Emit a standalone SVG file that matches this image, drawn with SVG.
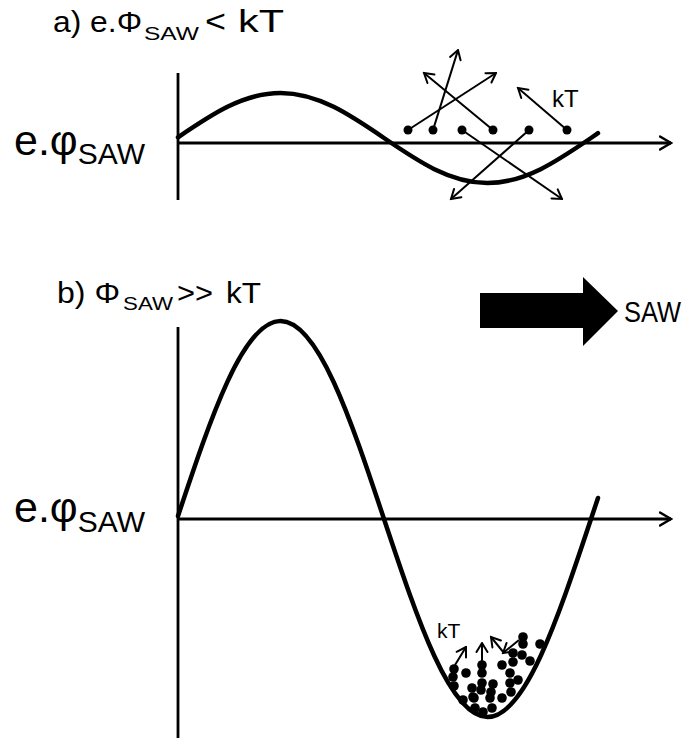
<svg xmlns="http://www.w3.org/2000/svg" width="689" height="740" viewBox="0 0 689 740">
<style>
.t{font-family:"Liberation Sans",Arial,sans-serif;fill:#000}
.axis{stroke:#000;stroke-width:2.8;fill:none}
.curve{stroke:#000;stroke-width:4.5;fill:none;stroke-linecap:round}
.arr{stroke:#000;stroke-width:2;fill:none;marker-end:url(#sh)}
.dot{fill:#000}
</style>
<defs>
<marker id="ah" viewBox="0 0 14 16" refX="12.5" refY="8" markerWidth="14" markerHeight="16" markerUnits="userSpaceOnUse" orient="auto">
<path d="M1.5,1.5 L12.5,8 L1.5,14.5" fill="none" stroke="#000" stroke-width="2.6" stroke-linecap="round" stroke-linejoin="miter"/>
</marker>
<marker id="sh" viewBox="0 0 12 14" refX="10.5" refY="7" markerWidth="12" markerHeight="14" markerUnits="userSpaceOnUse" orient="auto">
<path d="M1.5,1.5 L10.5,7 L1.5,12.5" fill="none" stroke="#000" stroke-width="2" stroke-linecap="round"/>
</marker>
</defs>
<rect width="689" height="740" fill="#fff"/>

<g id="panelA">
<g id="titleA">
<text class="t" x="53" y="32" font-size="30" textLength="89" lengthAdjust="spacingAndGlyphs">a) e.Φ</text>
<text class="t" x="144" y="40" font-size="19" textLength="55" lengthAdjust="spacingAndGlyphs">SAW</text>
<text class="t" x="205" y="32" font-size="31" textLength="21" lengthAdjust="spacingAndGlyphs">&lt;</text>
<text class="t" x="238" y="32" font-size="31" textLength="46" lengthAdjust="spacingAndGlyphs">kT</text>
</g>
<text class="t" x="14" y="155" font-size="43">e.φ<tspan font-size="30" dy="9">SAW</tspan></text>
<line class="axis" x1="178" y1="73" x2="178" y2="200"/>
<line class="axis" x1="178" y1="143" x2="671" y2="143" marker-end="url(#ah)"/>
<path class="curve" d="M178,137.3 C210.75,114.95 243.04,93 280.5,93 C317.96,93 350.25,114.95 384,138 C417.75,161.05 450.04,183 487.5,183 C524.96,183 557.25,161.05 591,138 L598,133.2"/>
<g id="particlesA">
<circle class="dot" cx="408" cy="130" r="4.5"/>
<circle class="dot" cx="433" cy="130" r="4.5"/>
<circle class="dot" cx="462" cy="130" r="4.5"/>
<circle class="dot" cx="493" cy="130" r="4.5"/>
<circle class="dot" cx="529" cy="130" r="4.5"/>
<circle class="dot" cx="567" cy="130" r="4.5"/>
</g>
<text class="t" x="552" y="107" font-size="24">kT</text>
</g>

<g id="panelB">
<g id="titleB">
<text class="t" x="57" y="303" font-size="29" textLength="63" lengthAdjust="spacingAndGlyphs">b) Φ</text>
<text class="t" x="123" y="310" font-size="19" textLength="50" lengthAdjust="spacingAndGlyphs">SAW</text>
<text class="t" x="177" y="303" font-size="29" textLength="36" lengthAdjust="spacingAndGlyphs">&gt;&gt;</text>
<text class="t" x="226" y="303" font-size="29" textLength="35" lengthAdjust="spacingAndGlyphs">kT</text>
</g>
<text class="t" x="14" y="522" font-size="43">e.φ<tspan font-size="30" dy="10">SAW</tspan></text>
<line class="axis" x1="178" y1="327" x2="178" y2="738"/>
<line class="axis" x1="178" y1="519" x2="671" y2="519" marker-end="url(#ah)"/>
<path class="curve" d="M178,516 C210.75,417.6 243.04,321 280.5,321 C317.96,321 350.25,417.6 384,519 C417.75,620.4 450.04,717 487.5,717 C524.96,717 557.25,620.4 591,519 L598,498"/>
<g id="particlesB">
<circle class="dot" cx="523" cy="637" r="4.8"/>
<circle class="dot" cx="523" cy="644" r="4.8"/>
<circle class="dot" cx="540" cy="644" r="4.8"/>
<circle class="dot" cx="522" cy="655" r="4.8"/>
<circle class="dot" cx="513" cy="653" r="4.8"/>
<circle class="dot" cx="530" cy="661" r="4.8"/>
<circle class="dot" cx="513" cy="662" r="4.8"/>
<circle class="dot" cx="502" cy="665" r="4.8"/>
<circle class="dot" cx="482" cy="665" r="4.8"/>
<circle class="dot" cx="482" cy="673" r="4.8"/>
<circle class="dot" cx="466" cy="673" r="4.8"/>
<circle class="dot" cx="454" cy="669" r="4.8"/>
<circle class="dot" cx="453" cy="677" r="4.8"/>
<circle class="dot" cx="510" cy="673" r="4.8"/>
<circle class="dot" cx="518" cy="680" r="4.8"/>
<circle class="dot" cx="510" cy="683" r="4.8"/>
<circle class="dot" cx="482" cy="683" r="4.8"/>
<circle class="dot" cx="493" cy="684" r="4.8"/>
<circle class="dot" cx="454" cy="686" r="4.8"/>
<circle class="dot" cx="472" cy="688" r="4.8"/>
<circle class="dot" cx="481" cy="690" r="4.8"/>
<circle class="dot" cx="491" cy="692" r="4.8"/>
<circle class="dot" cx="511" cy="692" r="4.8"/>
<circle class="dot" cx="463" cy="700" r="4.8"/>
<circle class="dot" cx="474" cy="698" r="4.8"/>
<circle class="dot" cx="490" cy="698" r="4.8"/>
<circle class="dot" cx="502" cy="698" r="4.8"/>
<circle class="dot" cx="475" cy="708" r="4.8"/>
<circle class="dot" cx="483" cy="712" r="4.8"/>
<circle class="dot" cx="492" cy="708" r="4.8"/>
<circle class="dot" cx="473" cy="697" r="4.8"/>
</g>
<text class="t" x="437" y="638" font-size="21">kT</text>
</g>

<g id="sawArrow">
<polygon points="480,293 583,293 583,277 618,311 583,346 583,328 480,328" fill="#000"/>
<text class="t" x="624" y="322" font-size="29" textLength="57" lengthAdjust="spacingAndGlyphs">SAW</text>
</g>

<g id="connectors">
<line class="arr" x1="408" y1="130" x2="496" y2="73"/>
<line class="arr" x1="433" y1="130" x2="458" y2="50"/>
<line class="arr" x1="493" y1="130" x2="424" y2="73"/>
<line class="arr" x1="567" y1="130" x2="518" y2="88"/>
<line class="arr" x1="462" y1="130" x2="562" y2="199"/>
<line class="arr" x1="529" y1="130" x2="451" y2="199"/>
<line class="arr" x1="455" y1="665" x2="466" y2="647"/>
<line class="arr" x1="482" y1="662" x2="482" y2="643"/>
<line class="arr" x1="504" y1="653" x2="491" y2="637"/>
<line class="arr" x1="519" y1="640" x2="503" y2="653"/>
</g>
</svg>
